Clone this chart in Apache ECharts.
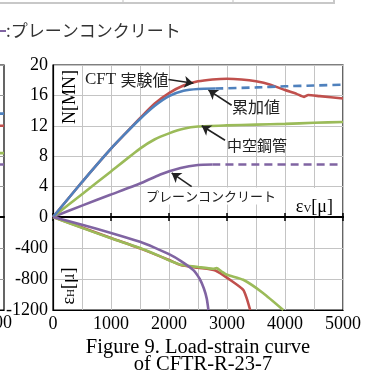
<!DOCTYPE html>
<html><head><meta charset="utf-8">
<script src="https://cdn.jsdelivr.net/npm/echarts@6/dist/echarts.min.js"></script>
<style>html,body{margin:0;padding:0;background:#fff}#c{width:371px;height:378px}</style>
</head><body><div id="c"></div>
<script>
// ---- data (εv [μ], value) ----
const xTickLabels = ['0','1000','2000','3000','4000','5000'];
const loadTicks = [0,4,8,12,16,20];
const strainTicks = [-1200,-800,-400,0];

// upper: N [MN] vs εv
const cftLoad = [[0,0],[500,4.6],[1000,9.0],[1250,11.0],[1500,13.0],[1750,14.9],[2000,16.3],[2250,17.3],[2500,17.85],[2750,18.1],[3000,18.2],[3250,18.1],[3500,17.85],[3750,17.4],[4000,16.7],[4200,16.2],[4330,15.8],[4400,16.05],[4600,15.9],[5000,15.6]];
const sumLoad = [[0,0],[500,4.6],[1000,9.0],[1250,11.0],[1500,12.9],[1750,14.6],[2000,15.9],[2250,16.6],[2500,16.85],[2800,16.9]];
const sumLoadExt = [[2800,16.9],[3500,17.05],[4000,17.2],[4500,17.3],[5000,17.4]];
const tubeLoad = [[0,0],[500,3.0],[1000,6.0],[1500,9.0],[1750,10.2],[2000,11.0],[2250,11.6],[2500,11.9],[3000,12.05],[3500,12.15],[4000,12.25],[4500,12.4],[5000,12.5]];
const concLoad = [[0,0],[500,1.5],[1000,2.95],[1500,4.4],[1850,5.6],[2200,6.45],[2500,6.85],[2750,6.9]];
const concLoadExt = [[2750,6.9],[5000,6.9]];

// lower: εH [μ] vs εv
const cftHoop = [[0,0],[500,-135],[1000,-270],[1500,-405],[2000,-555],[2200,-620],[2500,-655],[2800,-690],[3050,-810],[3280,-940],[3340,-1050],[3400,-1200]];
const tubeHoop = [[0,0],[500,-140],[1000,-275],[1500,-400],[1850,-508],[2000,-560],[2200,-615],[2500,-645],[2760,-668],[2820,-660],[2900,-700],[3000,-745],[3280,-810],[3620,-980],[3970,-1200]];
const concHoop = [[0,0],[500,-100],[1000,-205],[1500,-320],[1750,-395],[2000,-480],[2200,-565],[2420,-685],[2530,-800],[2600,-920],[2650,-1050],[2680,-1200]];

// neighbouring (cut-off) chart at the left edge
const leftBlue = [[700,13.6],[1000,13.6]];
const leftRed = [[700,12.0],[1000,12.0]];
const leftGreen = [[700,8.4],[1000,8.4]];
const leftPurple = [[700,6.9],[1000,6.9]];

// annotation arrows [from, to] in data coordinates
const arrowCFT = [[1990,18.1],[2420,17.6]];
const arrowSum = [[3080,14.7],[2680,16.7]];
const arrowTube = [[2966,10.1],[2564,12.0]];
const arrowConc = [[2391,4.0],[2046,5.8]];

const RED='#c0504d', BLUE='#4f81bd', GREEN='#9bbb59', PURPLE='#8064a2';
const GRIDC='#c4c4c4';
const SERIF='"Liberation Serif","Times New Roman",serif';
const JP='"Noto Sans CJK JP",sans-serif';

const chart = echarts.init(document.getElementById('c'), null, {renderer:'canvas'});

function line(data, color, xi, yi, dashed, z){
  return {type:'line', data, xAxisIndex:xi, yAxisIndex:yi, symbol:'none', smooth:0.2,
    lineStyle:{color, width:2.6, type: dashed?[8,5]:'solid'}, z: z||2, silent:true, animation:false};
}
function arrow(a){ return [{coord:a[0]},{coord:a[1]}]; }

const splitStyle = {show:true, lineStyle:{color:GRIDC, width:1}};
function gridX(gi){
  return {gridIndex:gi, type:'value', min:0, max:5000, interval:500, position:'bottom',
    axisLine:{show:false}, axisTick:{show:false}, axisLabel:{show:false}, splitLine:splitStyle};
}

chart.setOption({
  animation:false,
  backgroundColor:'#fff',
  grid:[
    {left:53, right:28, top:65, height:152, show:true, borderColor:'#000', borderWidth:1.2, outerBoundsMode:'none'},
    {left:53, right:28, top:217, height:93, show:true, borderColor:'#000', borderWidth:1.2, outerBoundsMode:'none'},
    {left:-100, width:104, top:65, height:152, show:true, borderColor:'#000', borderWidth:1.2, outerBoundsMode:'none'},
    {left:-100, width:104, top:217, height:93, show:true, borderColor:'#000', borderWidth:1.2, outerBoundsMode:'none'}
  ],
  xAxis:[
    {gridIndex:0, type:'value', min:0, max:5000, interval:1000, position:'bottom',
      axisLine:{show:true, onZero:false, lineStyle:{color:'#000', width:2}},
      axisTick:{show:true, inside:true, length:4, lineStyle:{color:'#000', width:1.5}},
      axisLabel:{show:false}, splitLine:{show:false}},
    {gridIndex:1, type:'value', min:0, max:5000, interval:1000, position:'bottom',
      axisLine:{show:true, onZero:false, lineStyle:{color:'#000', width:1.2}},
      axisTick:{show:false},
      axisLabel:{show:true, margin:5, color:'#000', fontFamily:SERIF, fontSize:18,
        formatter:(v)=>xTickLabels[Math.round(v/1000)]},
      splitLine:{show:false}},
    {gridIndex:1, type:'value', min:0, max:5000, interval:1000, position:'top',
      axisLine:{show:true, onZero:false, lineStyle:{color:'#000', width:2}},
      axisTick:{show:true, inside:true, length:4, lineStyle:{color:'#000', width:1.5}},
      axisLabel:{show:false}, splitLine:{show:false}},
    {gridIndex:2, type:'value', min:0, max:1000, show:true,
      axisLine:{show:true, onZero:false, lineStyle:{color:'#000', width:2}},
      axisTick:{show:false}, axisLabel:{show:false}, splitLine:{show:false}},
    {gridIndex:3, type:'value', min:0, max:1000, show:true,
      axisLine:{show:true, onZero:false, lineStyle:{color:'#000', width:1.2}},
      axisTick:{show:false}, axisLabel:{show:false}, splitLine:{show:false}},
    gridX(0),
    gridX(1)
  ],
  yAxis:[
    {gridIndex:0, type:'value', min:loadTicks[0], max:loadTicks[loadTicks.length-1], interval:4,
      axisLine:{show:true, onZero:false, lineStyle:{color:'#000', width:1.2}},
      axisTick:{show:false},
      axisLabel:{show:true, margin:5, color:'#000', fontFamily:SERIF, fontSize:18},
      splitLine:splitStyle},
    {gridIndex:1, type:'value', min:strainTicks[0], max:0, interval:400,
      axisLine:{show:true, onZero:false, lineStyle:{color:'#000', width:1.2}},
      axisTick:{show:false}, showMaxLabel:false,
      axisLabel:{show:true, margin:5, color:'#000', fontFamily:SERIF, fontSize:18,
        formatter:(v)=> v===0 ? '' : String(v)},
      splitLine:splitStyle},
    {gridIndex:2, type:'value', min:0, max:20, interval:4,
      axisLine:{show:false}, axisTick:{show:false}, axisLabel:{show:false},
      splitLine:{show:true, lineStyle:{color:'#999', width:1}}},
    {gridIndex:3, type:'value', min:-1200, max:0, interval:400,
      axisLine:{show:false}, axisTick:{show:false}, axisLabel:{show:false},
      splitLine:{show:true, lineStyle:{color:'#999', width:1}}}
  ],
  series:[
    line(concLoad, PURPLE, 0, 0, false, 3),
    line(concLoadExt, PURPLE, 0, 0, true, 3),
    Object.assign(line(tubeLoad, GREEN, 0, 0, false, 3), {
      markLine:{silent:true, symbol:['none','arrow'], symbolSize:9, label:{show:false},
        lineStyle:{color:'#222', width:1.6, type:'solid'}, emphasis:{disabled:true},
        data:[arrow(arrowCFT), arrow(arrowSum), arrow(arrowTube), arrow(arrowConc)]}
    }),
    line(cftLoad, RED, 0, 0, false, 3),
    line(sumLoad, BLUE, 0, 0, false, 4),
    line(sumLoadExt, BLUE, 0, 0, true, 4),
    line(cftHoop, RED, 1, 1, false, 3),
    line(tubeHoop, GREEN, 1, 1, false, 4),
    line(concHoop, PURPLE, 1, 1, false, 5),
    line(leftBlue, BLUE, 3, 2, false, 3),
    line(leftRed, RED, 3, 2, false, 3),
    line(leftGreen, GREEN, 3, 2, false, 3),
    line(leftPurple, PURPLE, 3, 2, false, 3)
  ],
  graphic:[
    // table edge at top
    {type:'rect', shape:{x:-2, y:-12, width:336, height:15}, style:{fill:'#fff', stroke:'#c8c8c8', lineWidth:2}, silent:true},
    {type:'line', shape:{x1:123, y1:-10, x2:123, y2:2}, style:{stroke:'#d4d4d4', lineWidth:1.5}, silent:true},
    {type:'line', shape:{x1:233, y1:-10, x2:233, y2:2}, style:{stroke:'#d4d4d4', lineWidth:1.5}, silent:true},
    // legend fragment of neighbouring chart
    {type:'line', shape:{x1:0, y1:31, x2:6, y2:31}, style:{stroke:PURPLE, lineWidth:2}, silent:true},
    {type:'text', x:6, y:31, style:{text:':プレーンコンクリート', font:'17px '+JP, fill:'#333', verticalAlign:'middle'}, silent:true},
    {type:'text', x:12, y:323, style:{text:'5000', font:'18px '+SERIF, fill:'#000', align:'right', verticalAlign:'middle'}, silent:true},
    // axis titles
    {type:'text', x:70, y:97, rotation:Math.PI/2, style:{text:'N[MN]', font:'18px '+SERIF, fill:'#000', align:'center', verticalAlign:'middle'}, silent:true},
    {type:'text', x:69, y:286, rotation:Math.PI/2,
      style:{text:'{a|ε}{s|H}{a|[μ]}', align:'center', verticalAlign:'middle', fill:'#000',
        rich:{a:{fontFamily:SERIF, fontSize:18, fill:'#000'}, s:{fontFamily:SERIF, fontSize:11, fill:'#000', padding:[5,0,0,0]}}}, silent:true},
    {type:'rect', shape:{x:286, y:188, width:56, height:28}, style:{fill:'#fff'}, silent:true, z:50},
    {type:'text', x:333, y:207, z:51,
      style:{text:'{a|ε}{s|V}{a|[μ]}', align:'right', verticalAlign:'middle', fill:'#000',
        rich:{a:{fontFamily:SERIF, fontSize:18, fill:'#000'}, s:{fontFamily:SERIF, fontSize:11, fill:'#000', padding:[5,0,0,0]}}}, silent:true},
    // annotations
    {type:'text', x:85, y:80, z:60,
      style:{text:'{a|CFT }{b|実験値}', verticalAlign:'middle', fill:'#222',
        rich:{a:{fontFamily:SERIF, fontSize:17, fill:'#222'}, b:{fontFamily:JP, fontSize:16, fill:'#222'}}}, silent:true},
    {type:'text', x:232, y:107, z:60, style:{text:'累加値', font:'16px '+JP, fill:'#222', verticalAlign:'middle'}, silent:true},
    {type:'text', x:227, y:145, z:60, style:{text:'中空鋼管', font:'15px '+JP, fill:'#222', verticalAlign:'middle'}, silent:true},
    {type:'text', x:145, y:196, z:60, style:{text:'プレーンコンクリート', font:'13px '+JP, fill:'#222', verticalAlign:'middle', backgroundColor:'#fff', padding:[2,2,2,1]}, silent:true},
    // caption
    {type:'text', x:198, y:348, style:{text:'Figure 9. Load-strain curve', font:'20.5px '+SERIF, fill:'#000', align:'center', verticalAlign:'middle'}, silent:true},
    {type:'text', x:203, y:365, style:{text:'of CFTR-R-23-7', font:'20.5px '+SERIF, fill:'#000', align:'center', verticalAlign:'middle'}, silent:true}
  ]
});
</script></body></html>
